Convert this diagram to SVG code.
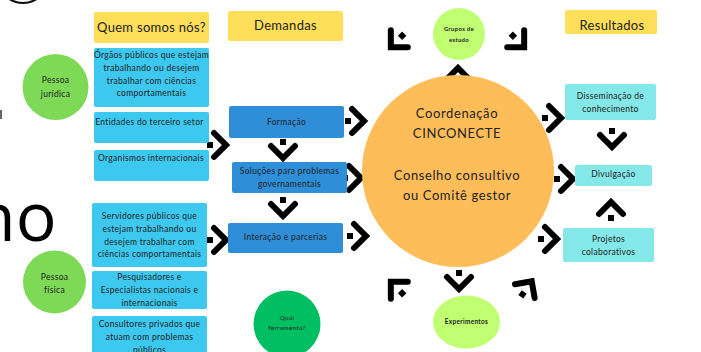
<svg xmlns="http://www.w3.org/2000/svg" xmlns:xlink="http://www.w3.org/1999/xlink" width="701" height="352" viewBox="0 0 701 352">
<style>
text{font-family:Lato,"Open Sans",sans-serif;fill:#222;text-anchor:middle}
.t{font-size:13px;letter-spacing:0.3px}
.s{font-size:8.5px;letter-spacing:0.3px}
.b{font-size:6px;font-weight:bold;letter-spacing:0.3px}
.yel{fill:#ffde59}
.cy{fill:#3cc8ef}
.bl{fill:#2e8ed8}
.lc{fill:#84e8e8}
</style>
<defs>
<g id="arr"><rect x="-23" y="-3" width="6" height="6" fill="#000"/><polyline points="-16,-12 -4,0 -16,12" fill="none" stroke="#000" stroke-width="6" stroke-linecap="round" stroke-linejoin="miter"/></g>
</defs>
<rect width="701" height="352" fill="#fff"/>
<!-- background fragments -->
<ellipse cx="23" cy="-16" rx="22" ry="19" fill="none" stroke="#111" stroke-width="2.2"/>
<rect x="0" y="110" width="2" height="9" fill="#666"/>
<text x="-26" y="241" style="font-family:'Open Sans',sans-serif;font-size:68px;fill:#000;text-anchor:start">no</text>

<g id="connectors">
<use xlink:href="#arr" transform="translate(230,145)"/>
<use xlink:href="#arr" transform="translate(230,240)"/>
<use xlink:href="#arr" transform="translate(368,121)"/>
<use xlink:href="#arr" transform="translate(283,162) rotate(90)"/>
<use xlink:href="#arr" transform="translate(365,178)"/>
<use xlink:href="#arr" transform="translate(283,220) rotate(90)"/>
<use xlink:href="#arr" transform="translate(370,236)"/>
<use xlink:href="#arr" transform="translate(388,50) rotate(135)"/>
<use xlink:href="#arr" transform="translate(527,50) rotate(45)"/>
<use xlink:href="#arr" transform="translate(458,64) rotate(-90)"/>
<use xlink:href="#arr" transform="translate(565,118)"/>
<use xlink:href="#arr" transform="translate(612,151) rotate(90)"/>
<use xlink:href="#arr" transform="translate(577,179)"/>
<use xlink:href="#arr" transform="translate(611,198) rotate(-90)"/>
<use xlink:href="#arr" transform="translate(561,239)"/>
<use xlink:href="#arr" transform="translate(459,293) rotate(90)"/>
<use xlink:href="#arr" transform="translate(388,279) rotate(-135)"/>
<use xlink:href="#arr" transform="translate(534,278) rotate(-55)"/>
</g>

<g id="quem"><rect class="yel" x="94" y="12" width="115" height="31" rx="2"/><text class="t" x="151.5" y="32">Quem somos nós?</text></g>
<g id="demandas"><rect class="yel" x="228" y="11" width="115" height="30" rx="2"/><text class="t" x="285.5" y="30">Demandas</text></g>
<g id="resultados"><rect class="yel" x="565" y="10" width="92" height="24" rx="2"/><text class="t" x="612" y="29.5">Resultados</text></g>

<g id="pj"><circle cx="55.5" cy="87" r="33" fill="#7ed957"/><text class="s" x="55.5" y="83">Pessoa</text><text class="s" x="55.5" y="96.5">jurídica</text></g>
<g id="pf"><circle cx="54.5" cy="282" r="31.5" fill="#7ed957"/><text class="s" x="54.5" y="280">Pessoa</text><text class="s" x="54.5" y="292.5">física</text></g>

<g id="orgaos"><rect class="cy" x="94" y="48" width="115" height="59" rx="2"/>
<text class="s" x="151.5" y="58">Órgãos públicos que estejam</text>
<text class="s" x="151.5" y="71">trabalhando ou desejem</text>
<text class="s" x="151.5" y="83.5">trabalhar com ciências</text>
<text class="s" x="151.5" y="96">comportamentais</text></g>
<g id="entidades"><rect class="cy" x="94" y="112" width="115" height="31" rx="2"/><text class="s" x="149.5" y="125">Entidades do terceiro setor</text></g>
<g id="organismos"><rect class="cy" x="94" y="150" width="115" height="31" rx="2"/><text class="s" x="151" y="161">Organismos internacionais</text></g>
<g id="servidores"><rect class="cy" x="92" y="203" width="115" height="64" rx="2"/>
<text class="s" x="149.5" y="219">Servidores públicos que</text>
<text class="s" x="149.5" y="232">estejam trabalhando ou</text>
<text class="s" x="149.5" y="244.5">desejem trabalhar com</text>
<text class="s" x="149.5" y="257">ciências comportamentais</text></g>
<g id="pesquisadores"><rect class="cy" x="92" y="271" width="115" height="38" rx="2"/>
<text class="s" x="149.5" y="280">Pesquisadores e</text>
<text class="s" x="149.5" y="293">Especialistas nacionais e</text>
<text class="s" x="149.5" y="306">internacionais</text></g>
<g id="consultores"><rect class="cy" x="92" y="316" width="115" height="40" rx="2"/>
<text class="s" x="149.5" y="327">Consultores privados que</text>
<text class="s" x="149.5" y="340">atuam com problemas</text>
<text class="s" x="149.5" y="353">públicos</text></g>

<g id="formacao"><rect class="bl" x="229" y="106" width="115" height="32" rx="2"/><text class="s" x="286.5" y="125">Formação</text></g>
<g id="solucoes"><rect class="bl" x="232" y="162" width="115" height="31" rx="2"/><text class="s" x="289.5" y="174">Soluções para problemas</text><text class="s" x="289.5" y="187">governamentais</text></g>
<g id="interacao"><rect class="bl" x="228" y="223" width="115" height="30" rx="2"/><text class="s" x="285.5" y="240">Interação e parcerias</text></g>

<g id="coord"><circle cx="458" cy="171" r="96" fill="#ffbd59"/>
<text class="t" x="457" y="117.5" style="letter-spacing:0.6px">Coordenação</text>
<text class="t" x="457" y="137.5" style="letter-spacing:0.6px">CINCONECTE</text>
<text class="t" x="457" y="179.5" style="letter-spacing:0.6px">Conselho consultivo</text>
<text class="t" x="457" y="199.5" style="letter-spacing:0.6px">ou Comitê gestor</text></g>

<g id="grupos"><circle cx="459" cy="34" r="26" fill="#c1ff72"/><text class="b" x="459" y="31">Grupos de</text><text class="b" x="459" y="42">estudo</text></g>
<g id="experimentos"><ellipse cx="466.5" cy="322" rx="33.5" ry="26.5" fill="#c1ff72"/><text class="b" x="466.5" y="323.5" style="font-size:6.5px">Experimentos</text></g>
<g id="qual"><circle cx="287" cy="324" r="33.5" fill="#00bf63"/><text class="b" x="287" y="319.5" style="font-weight:normal;font-size:6.5px">Qual</text><text class="b" x="287" y="330" style="font-weight:normal;font-size:6.5px">ferramenta?</text></g>

<g id="dissem"><rect class="lc" x="565" y="84" width="91" height="36" rx="2"/><text class="s" x="610.5" y="99">Disseminação de</text><text class="s" x="610.5" y="112">conhecimento</text></g>
<g id="divulg"><rect class="lc" x="575" y="165" width="77" height="21" rx="2"/><text class="s" x="613.5" y="177">Divulgação</text></g>
<g id="projetos"><rect class="lc" x="563" y="228" width="91" height="34" rx="2"/><text class="s" x="608.5" y="242">Projetos</text><text class="s" x="608.5" y="255">colaborativos</text></g>
</svg>
